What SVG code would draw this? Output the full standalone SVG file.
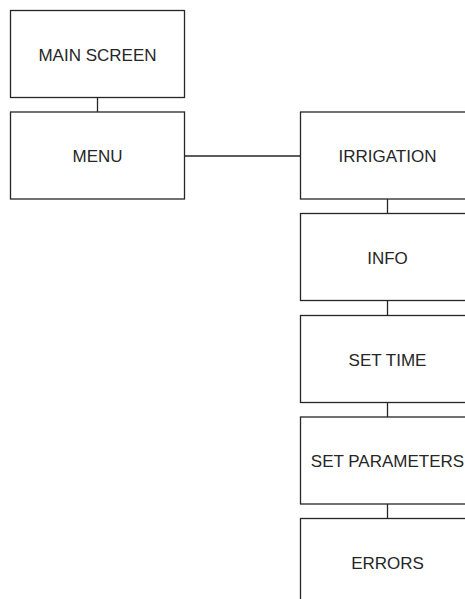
<svg xmlns="http://www.w3.org/2000/svg" width="465" height="599" viewBox="0 0 465 599">
  <style>
    .box { fill: #ffffff; stroke: #262626; stroke-width: 1.3; }
    .lbl { font-family: "Liberation Sans", Arial, sans-serif; font-size: 17px; fill: #262626; text-anchor: middle; }
    .link { stroke: #262626; stroke-width: 1.3; fill: none; }
  </style>
  <rect width="465" height="599" fill="#ffffff"/>
  <g id="connectors">
    <line class="link" x1="97.5" y1="97.5" x2="97.5" y2="112"/>
    <line class="link" x1="184.5" y1="156" x2="300.5" y2="156"/>
    <line class="link" x1="387.5" y1="199" x2="387.5" y2="213.5"/>
    <line class="link" x1="387.5" y1="300.5" x2="387.5" y2="315.5"/>
    <line class="link" x1="387.5" y1="402.5" x2="387.5" y2="417"/>
    <line class="link" x1="387.5" y1="504" x2="387.5" y2="518.5"/>
  </g>
  <g id="main-screen">
    <rect class="box" x="10.5" y="10.5" width="174" height="87"/>
    <text class="lbl" x="97.5" y="60.5">MAIN SCREEN</text>
  </g>
  <g id="menu">
    <rect class="box" x="10.5" y="112" width="174" height="87"/>
    <text class="lbl" x="97.5" y="162">MENU</text>
  </g>
  <g id="irrigation">
    <rect class="box" x="300.5" y="112" width="174" height="87"/>
    <text class="lbl" x="387.5" y="162">IRRIGATION</text>
  </g>
  <g id="info">
    <rect class="box" x="300.5" y="213.5" width="174" height="87"/>
    <text class="lbl" x="387.5" y="263.5">INFO</text>
  </g>
  <g id="set-time">
    <rect class="box" x="300.5" y="315.5" width="174" height="87"/>
    <text class="lbl" x="387.5" y="365.5">SET TIME</text>
  </g>
  <g id="set-parameters">
    <rect class="box" x="300.5" y="417" width="174" height="87"/>
    <text class="lbl" x="387.5" y="467">SET PARAMETERS</text>
  </g>
  <g id="errors">
    <rect class="box" x="300.5" y="518.5" width="174" height="87"/>
    <text class="lbl" x="387.5" y="568.5">ERRORS</text>
  </g>
</svg>
